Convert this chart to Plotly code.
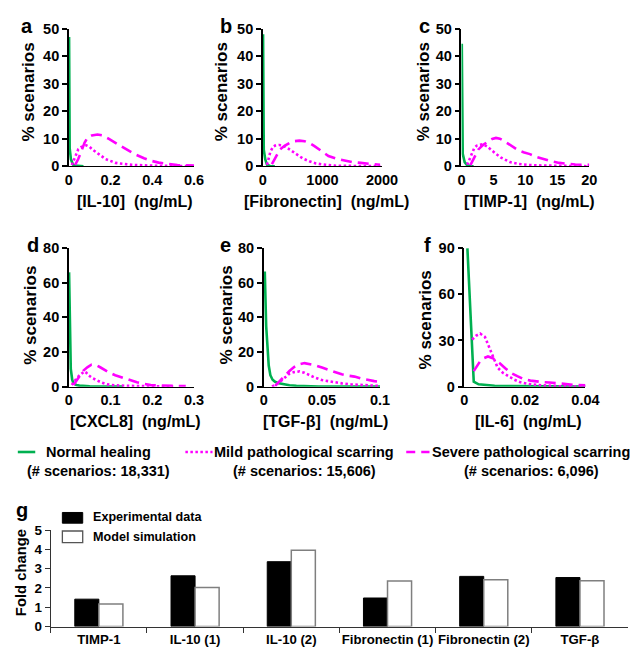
import plotly.graph_objects as go

W, H = 638, 650
FONT = "Arial, Liberation Sans, sans-serif"
GREEN = "#00B050"
MAGENTA = "#FF00FF"

# ---------------- data: distributions (% scenarios vs concentration, ng/mL) ----------------
# a: IL-10
il10_normal_x = [0.001, 0.004, 0.01, 0.02, 0.03, 0.05, 0.07]
il10_normal_y = [47, 6.5, 2.5, 0.5, 0.2, 0.05, 0]
il10_mild_x = [0.014, 0.03, 0.045, 0.06, 0.083, 0.1, 0.114, 0.145, 0.176, 0.223, 0.3, 0.42, 0.6]
il10_mild_y = [0.4, 3.5, 6.1, 7.0, 7.6, 7.0, 6.0, 4.3, 2.6, 1.2, 0.5, 0.15, 0.05]
il10_severe_x = [0.03, 0.045, 0.06, 0.075, 0.09, 0.11, 0.137, 0.16, 0.19, 0.238, 0.28, 0.315,
                 0.36, 0.392, 0.43, 0.47, 0.52, 0.6]
il10_severe_y = [0.5, 2.6, 5.5, 8.5, 10.5, 11.2, 11.5, 11.2, 10.0, 7.9, 5.9, 4.4,
                 2.9, 2.0, 1.3, 0.8, 0.4, 0.2]

# b: Fibronectin
fn_normal_x = [3, 15, 40, 70, 120, 200]
fn_normal_y = [48, 6, 2.5, 0.5, 0.1, 0]
fn_mild_x = [70, 100, 125, 170, 206, 270, 341, 420, 510, 590, 672, 780, 889, 1050, 1214, 1500, 1973]
fn_mild_y = [0.5, 3.0, 5.2, 7.0, 7.5, 7.7, 7.5, 6.5, 5.2, 4.0, 2.8, 1.8, 1.0, 0.5, 0.2, 0.1, 0.0]
fn_severe_x = [152, 220, 287, 370, 450, 530, 613, 700, 775, 860, 938, 1020, 1100, 1240, 1371,
               1500, 1642, 1800, 1967]
fn_severe_y = [0.8, 3.5, 6.1, 7.5, 8.5, 9.1, 9.3, 9.1, 8.5, 7.4, 6.1, 4.8, 3.7, 2.7, 2.0,
               1.5, 1.2, 0.8, 0.5]

# c: TIMP-1
timp_normal_x = [0.05, 0.2, 0.5, 0.9, 1.4, 1.9]
timp_normal_y = [44.5, 4.5, 1.5, 0.3, 0.05, 0]
timp_mild_x = [0.9, 1.3, 1.66, 2.0, 2.4, 2.9, 3.4, 4.0, 4.65, 5.4, 6.2, 7.0, 7.7, 9.0, 10.2, 12.5, 15.3, 19.8]
timp_mild_y = [0.5, 3.0, 5.2, 6.6, 7.5, 7.8, 8.0, 7.2, 6.1, 4.5, 3.1, 2.1, 1.4, 0.8, 0.5, 0.25, 0.1, 0.0]
timp_severe_x = [1.4, 2.0, 2.65, 3.4, 4.2, 4.8, 5.4, 6.0, 6.7, 7.7, 8.7, 9.7, 10.7, 11.7, 12.7,
                 14.0, 15.3, 16.5, 17.8, 20.0]
timp_severe_y = [0.4, 3.0, 6.1, 7.8, 9.1, 9.9, 10.3, 10.0, 9.1, 7.6, 6.1, 5.1, 4.4, 3.4, 2.6,
                 1.8, 1.2, 0.9, 0.6, 0.5]

# d: CXCL8
cxcl8_normal_x = [0.0005, 0.003, 0.0046, 0.008, 0.011, 0.018, 0.025, 0.05, 0.08, 0.13]
cxcl8_normal_y = [66, 25, 10.3, 4.0, 1.9, 1.0, 0.6, 0.25, 0.1, 0.0]
cxcl8_mild_x = [0.007, 0.012, 0.018, 0.024, 0.030, 0.037, 0.042, 0.047, 0.056, 0.066, 0.078,
                0.092, 0.11, 0.138, 0.19, 0.25]
cxcl8_mild_y = [0.9, 2.7, 4.6, 6.2, 7.5, 8.8, 8.0, 6.6, 5.0, 3.8, 2.4, 1.3, 0.8, 0.5, 0.2, 0.0]
cxcl8_severe_x = [0.011, 0.018, 0.026, 0.035, 0.045, 0.054, 0.060, 0.066, 0.075, 0.085, 0.098,
                  0.111, 0.125, 0.138, 0.15, 0.163, 0.18, 0.196, 0.22, 0.25, 0.28]
cxcl8_severe_y = [0.9, 3.5, 6.6, 9.3, 11.3, 12.7, 12.8, 12.4, 11.2, 9.6, 8.0, 6.6, 5.4, 4.4,
                  3.4, 2.5, 1.6, 0.9, 0.6, 0.4, 0.3]

# e: TGF-beta
tgf_normal_x = [0.0008, 0.002, 0.0042, 0.0056, 0.0075, 0.0097, 0.013, 0.0167, 0.022, 0.028,
                0.035, 0.047, 0.07, 0.1]
tgf_normal_y = [66.5, 35, 12.2, 6.6, 4.0, 2.8, 1.9, 1.3, 0.8, 0.5, 0.3, 0.1, 0.05, 0.0]
tgf_mild_x = [0.007, 0.0105, 0.0139, 0.018, 0.022, 0.026, 0.0306, 0.035, 0.039, 0.044, 0.05,
              0.058, 0.067, 0.075, 0.083, 0.092, 0.1]
tgf_mild_y = [0.1, 1.2, 2.8, 5.2, 7.5, 8.4, 8.8, 8.0, 6.6, 5.2, 3.8, 2.7, 1.9, 1.3, 0.9, 0.6, 0.4]
tgf_severe_x = [0.0097, 0.014, 0.018, 0.022, 0.026, 0.030, 0.035, 0.04, 0.044, 0.05, 0.056,
                0.061, 0.067, 0.072, 0.078, 0.083, 0.089, 0.095, 0.1]
tgf_severe_y = [0.4, 3.5, 6.6, 9.0, 11.3, 12.8, 13.6, 13.0, 12.4, 11.0, 9.6, 8.3, 7.1, 6.4,
                5.8, 4.8, 3.8, 3.2, 2.8]

# f: IL-6
il6_normal_x = [0.001, 0.0031, 0.0047, 0.007, 0.01, 0.015, 0.021, 0.03, 0.04]
il6_normal_y = [90, 3.2, 1.5, 0.9, 0.6, 0.35, 0.2, 0.1, 0.0]
il6_mild_x = [0.0026, 0.0038, 0.0052, 0.0068, 0.009, 0.011, 0.0127, 0.0143, 0.0165, 0.0186,
              0.021, 0.0239, 0.027, 0.031, 0.035, 0.04]
il6_mild_y = [30.6, 33, 34.5, 32.3, 21.8, 12.3, 9.0, 7.0, 4.5, 2.8, 1.8, 1.1, 0.6, 0.3, 0.1, 0.0]
il6_severe_x = [0.0031, 0.0042, 0.0052, 0.0065, 0.0078, 0.0094, 0.0116, 0.0135, 0.0153, 0.0175,
                0.0196, 0.0218, 0.0239, 0.026, 0.0281, 0.0303, 0.0324, 0.0345, 0.0367, 0.04]
il6_severe_y = [10.1, 13.5, 16.5, 18.5, 19.6, 18.5, 15.4, 12.0, 9.0, 6.8, 4.9, 3.9, 3.2, 2.9,
                2.7, 2.2, 1.7, 1.4, 1.1, 0.8]

# ---------------- data: panel g ----------------
g_categories = ["TIMP-1", "IL-10 (1)", "IL-10 (2)", "Fibronectin (1)", "Fibronectin (2)", "TGF-β"]
g_experimental = [1.42, 2.63, 3.36, 1.48, 2.60, 2.54]
g_model = [1.17, 2.02, 3.95, 2.36, 2.43, 2.37]

legend_names = ["Normal healing", "Mild pathological scarring", "Severe pathological scarring"]
legend_counts = ["(# scenarios: 18,331)", "(# scenarios: 15,606)", "(# scenarios: 6,096)"]

# ---------------- layout helpers ----------------
def fx(p):
    return p / W

def fy(p):
    return 1 - p / H

panels = [
    dict(letter="a", title="[IL-10]  (ng/mL)", xr=[0, 0.6], xt=[0, 0.2, 0.4, 0.6], xl=["0", "0.2", "0.4", "0.6"],
         yr=[0, 50], yt=[0, 10, 20, 30, 40, 50], xd=(58.7, 188), yd=(13, 154),
         data=[(il10_normal_x, il10_normal_y), (il10_mild_x, il10_mild_y), (il10_severe_x, il10_severe_y)],
         lx=7, ytx=17, yty=78),
    dict(letter="b", title="[Fibronectin]  (ng/mL)", xr=[0, 2000], xt=[0, 1000, 2000], xl=["0", "1000", "2000"],
         yr=[0, 50], yt=[0, 10, 20, 30, 40, 50], xd=(259, 382), yd=(13, 154),
         data=[(fn_normal_x, fn_normal_y), (fn_mild_x, fn_mild_y), (fn_severe_x, fn_severe_y)],
         lx=213, ytx=216, yty=78),
    dict(letter="c", title="[TIMP-1]  (ng/mL)", xr=[0, 20], xt=[0, 5, 10, 15, 20], xl=["0", "5", "10", "15", "20"],
         yr=[0, 50], yt=[0, 10, 20, 30, 40, 50], xd=(464, 596), yd=(13, 154),
         data=[(timp_normal_x, timp_normal_y), (timp_mild_x, timp_mild_y), (timp_severe_x, timp_severe_y)],
         lx=418, ytx=424.5, yty=78),
    dict(letter="d", title="[CXCL8]  (ng/mL)", xr=[0, 0.3], xt=[0, 0.1, 0.2, 0.3], xl=["0", "0.1", "0.2", "0.3"],
         yr=[0, 80], yt=[0, 20, 40, 60, 80], xd=(58.7, 188), yd=(238, 380),
         data=[(cxcl8_normal_x, cxcl8_normal_y), (cxcl8_mild_x, cxcl8_mild_y), (cxcl8_severe_x, cxcl8_severe_y)],
         lx=13, ytx=19, yty=307),
    dict(letter="e", title="[TGF-β]  (ng/mL)", xr=[0, 0.1], xt=[0, 0.05, 0.1], xl=["0", "0.05", "0.1"],
         yr=[0, 80], yt=[0, 20, 40, 60, 80], xd=(260, 380), yd=(238, 380),
         data=[(tgf_normal_x, tgf_normal_y), (tgf_mild_x, tgf_mild_y), (tgf_severe_x, tgf_severe_y)],
         lx=213, ytx=221, yty=307),
    dict(letter="f", title="[IL-6]  (ng/mL)", xr=[0, 0.04], xt=[0, 0.02, 0.04], xl=["0", "0.02", "0.04"],
         yr=[0, 90], yt=[0, 30, 60, 90], xd=(467, 592), yd=(238, 380),
         data=[(il6_normal_x, il6_normal_y), (il6_mild_x, il6_mild_y), (il6_severe_x, il6_severe_y)],
         lx=423, ytx=426.5, yty=312),
]

styles = [
    dict(color=GREEN, width=2.6, dash="solid"),
    dict(color=MAGENTA, width=2.6, dash="2.5px,2.5px"),
    dict(color=MAGENTA, width=2.6, dash="11px,6px"),
]

fig = go.Figure()
layout = dict(
    width=W, height=H, margin=dict(l=0, r=0, t=0, b=0),
    paper_bgcolor="white", plot_bgcolor="white", showlegend=False,
    font=dict(family=FONT, color="black", size=14),
    barmode="group", bargap=0.5, bargroupgap=0,
)
annotations = []
shapes = []

bold = dict(family=FONT, color="black", weight="bold")

for i, p in enumerate(panels, start=1):
    xa = "x" if i == 1 else f"x{i}"
    ya = "y" if i == 1 else f"y{i}"
    for (xs, ys), st in zip(p["data"], styles):
        fig.add_trace(go.Scatter(x=xs, y=ys, mode="lines", line=st, xaxis=xa, yaxis=ya,
                                 hoverinfo="skip"))
    layout["xaxis" if i == 1 else f"xaxis{i}"] = dict(
        domain=[fx(p["xd"][0]), fx(p["xd"][1])], range=p["xr"], anchor=ya,
        tickmode="array", tickvals=p["xt"], ticktext=p["xl"], tickangle=0,
        showline=True, linecolor="black", linewidth=1.3, showgrid=False, zeroline=False,
        ticks="", tickfont=dict(size=14.5, **bold), fixedrange=True,
    )
    layout["yaxis" if i == 1 else f"yaxis{i}"] = dict(
        domain=[fy(p["yd"][1]), fy(p["yd"][0])], range=p["yr"], anchor=xa,
        tickmode="array", tickvals=p["yt"],
        showline=True, linecolor="black", linewidth=1.5, showgrid=False, zeroline=False,
        ticks="outside", ticklen=5, tickwidth=1.5, tickcolor="black",
        tickfont=dict(size=14.5, **bold), fixedrange=True,
    )
    # panel letter
    annotations.append(dict(text=p["letter"], x=fx(p["lx"]), y=fy(p["yd"][0] - 3), xref="paper", yref="paper",
                            xanchor="left", yanchor="middle", showarrow=False, font=dict(size=20, **bold)))
    # y title
    annotations.append(dict(text="% scenarios", x=fx(p["ytx"]), y=fy(p["yty"]), xref="paper", yref="paper",
                            xanchor="center", yanchor="middle", textangle=-90, showarrow=False,
                            font=dict(size=17, **bold)))
    # x title
    annotations.append(dict(text=p["title"], x=fx((p["xd"][0] + p["xd"][1]) / 2 + 4), y=fy(p["yd"][1] + 36),
                            xref="paper", yref="paper", xanchor="center", yanchor="middle", showarrow=False,
                            font=dict(size=16, **bold)))

# ---------------- legend for distributions ----------------
leg_x_centers = [89.5, 301.5, 536]
leg_samples = [(6, 24), (179, 207), (407, 431)]
for name, cnt, cx, (s0, s1), st in zip(legend_names, legend_counts, leg_x_centers, leg_samples, styles):
    annotations.append(dict(text=name, x=fx(cx), y=fy(447), xref="paper", yref="paper",
                            xanchor="center", yanchor="middle", showarrow=False, font=dict(size=14.5, **bold)))
    annotations.append(dict(text=cnt, x=fx(cx), y=fy(466), xref="paper", yref="paper",
                            xanchor="center", yanchor="middle", showarrow=False, font=dict(size=14.5, **bold)))
    dash = st["dash"] if st["dash"] != "11px,6px" else "9px,6px"
    shapes.append(dict(type="line", xref="paper", yref="paper", x0=fx(s0), x1=fx(s1), y0=fy(447), y1=fy(447),
                       line=dict(color=st["color"], width=st["width"], dash=dash)))

# ---------------- panel g ----------------
fig.add_trace(go.Bar(x=g_categories, y=g_experimental, name="Experimental data", xaxis="x7", yaxis="y7",
                     marker=dict(color="black", line=dict(color="black", width=1)), hoverinfo="skip"))
fig.add_trace(go.Bar(x=g_categories, y=g_model, name="Model simulation", xaxis="x7", yaxis="y7",
                     marker=dict(color="white", line=dict(color="#7f7f7f", width=1.5)), hoverinfo="skip"))
layout["xaxis7"] = dict(
    domain=[fx(40), fx(636)], anchor="y7", type="category", range=[-0.5, 5.5], tickangle=0,
    showline=True, linecolor="#333333", linewidth=1.3, showgrid=False, zeroline=False,
    ticks="outside", tickson="boundaries", ticklen=5, tickcolor="#333333",
    tickfont=dict(size=13.2, **bold), fixedrange=True,
)
layout["yaxis7"] = dict(
    domain=[fy(626), fy(527)], anchor="x7", range=[0, 5], tickmode="array", tickvals=[0, 1, 2, 3, 4, 5],
    showline=True, linecolor="#333333", linewidth=1.3, showgrid=False, zeroline=False,
    ticks="outside", ticklen=5, tickcolor="#333333",
    tickfont=dict(size=13.4, **bold), fixedrange=True,
)
annotations.append(dict(text="g", x=fx(2), y=fy(506), xref="paper", yref="paper", xanchor="left",
                        yanchor="middle", showarrow=False, font=dict(size=20, **bold)))
annotations.append(dict(text="Fold change", x=fx(9.5), y=fy(571), xref="paper", yref="paper", xanchor="center",
                        yanchor="middle", textangle=-90, showarrow=False, font=dict(size=14.8, **bold)))
# legend of g
shapes.append(dict(type="rect", xref="paper", yref="paper", x0=fx(52), x1=fx(73), y0=fy(520), y1=fy(509),
                   fillcolor="black", line=dict(color="black", width=1)))
shapes.append(dict(type="rect", xref="paper", yref="paper", x0=fx(52), x1=fx(73), y0=fy(540), y1=fy(528),
                   fillcolor="white", line=dict(color="#555555", width=1.3)))
annotations.append(dict(text="Experimental data", x=fx(82), y=fy(514), xref="paper", yref="paper",
                        xanchor="left", yanchor="middle", showarrow=False, font=dict(size=12.6, **bold)))
annotations.append(dict(text="Model simulation", x=fx(82), y=fy(534), xref="paper", yref="paper",
                        xanchor="left", yanchor="middle", showarrow=False, font=dict(size=12.6, **bold)))

layout["annotations"] = annotations
layout["shapes"] = shapes
fig.update_layout(**layout)
fig.write_html("out.html")
